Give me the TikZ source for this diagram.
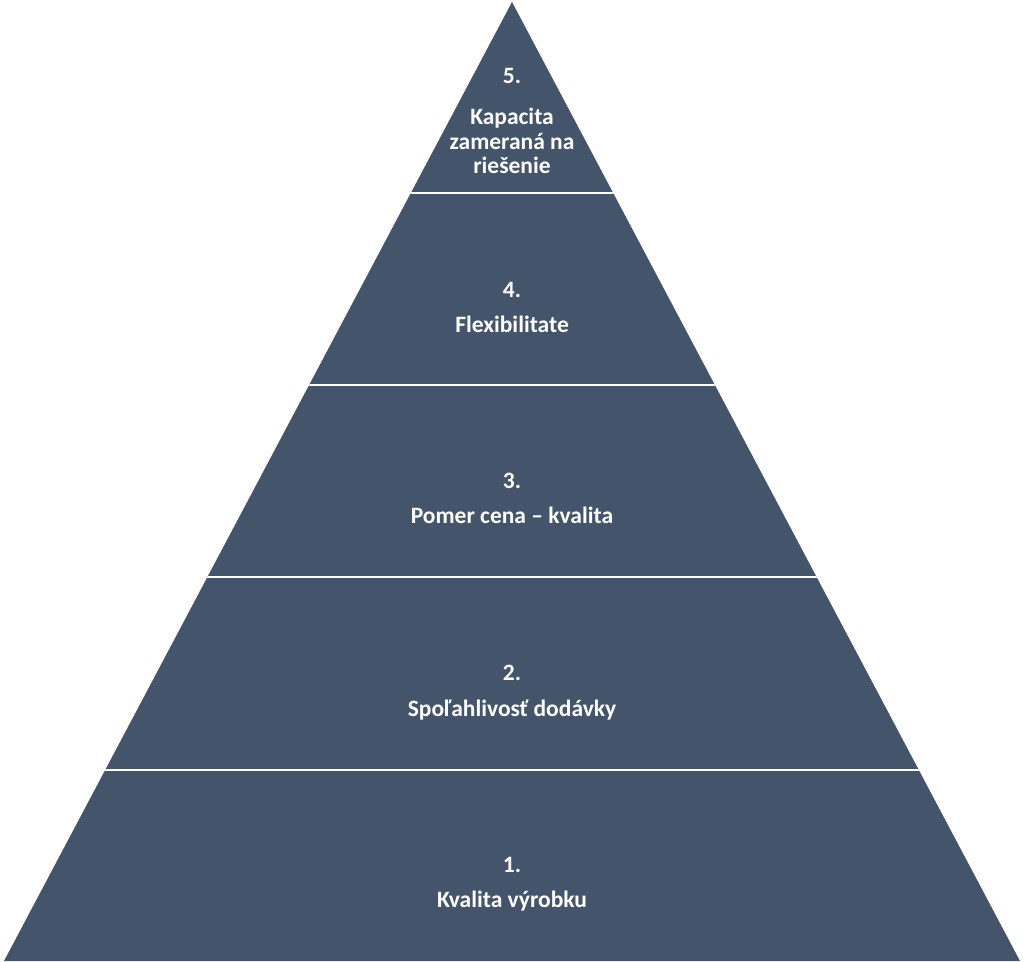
\documentclass[tikz,border=0pt]{standalone}
\usepackage{fontspec}
\setmainfont{Carlito}
\definecolor{slate}{HTML}{44546A}
\begin{document}
\begin{tikzpicture}[x=1pt,y=-1pt,
  lbl/.style={text=white,font=\bfseries\fontsize{23.5}{25}\selectfont,anchor=base,inner sep=0pt,align=center},
  sep/.style={draw=white,line width=1.8pt}]
\useasboundingbox (0,0) rectangle (1024,961);
\coordinate (apex) at (512,2);
\coordinate (bl) at (4,961);
\coordinate (br) at (1020,961);
\fill[slate] (apex) -- (br) -- (bl) -- cycle;
\begin{scope}
\clip (apex) -- (br) -- (bl) -- cycle;
\foreach \yy in {193,385,577,770} \draw[sep] (0,\yy) -- (1024,\yy);
\end{scope}
\node[lbl] (n5) at (512,83) {5.};
\node[lbl] (t5a) at (512,124) {Kapacita};
\node[lbl] (t5b) at (512,149) {zameraná na};
\node[lbl] (t5c) at (512,173) {riešenie};
\node[lbl] (n4) at (512,297) {4.};
\node[lbl] (t4) at (512,332) {Flexibilitate};
\node[lbl] (n3) at (512,488) {3.};
\node[lbl] (t3) at (512,523) {Pomer cena – kvalita};
\node[lbl] (n2) at (512,680) {2.};
\node[lbl] (t2) at (512,716) {Spoľahlivosť dodávky};
\node[lbl] (n1) at (512,872) {1.};
\node[lbl] (t1) at (512,907) {Kvalita výrobku};
\end{tikzpicture}
\end{document}
